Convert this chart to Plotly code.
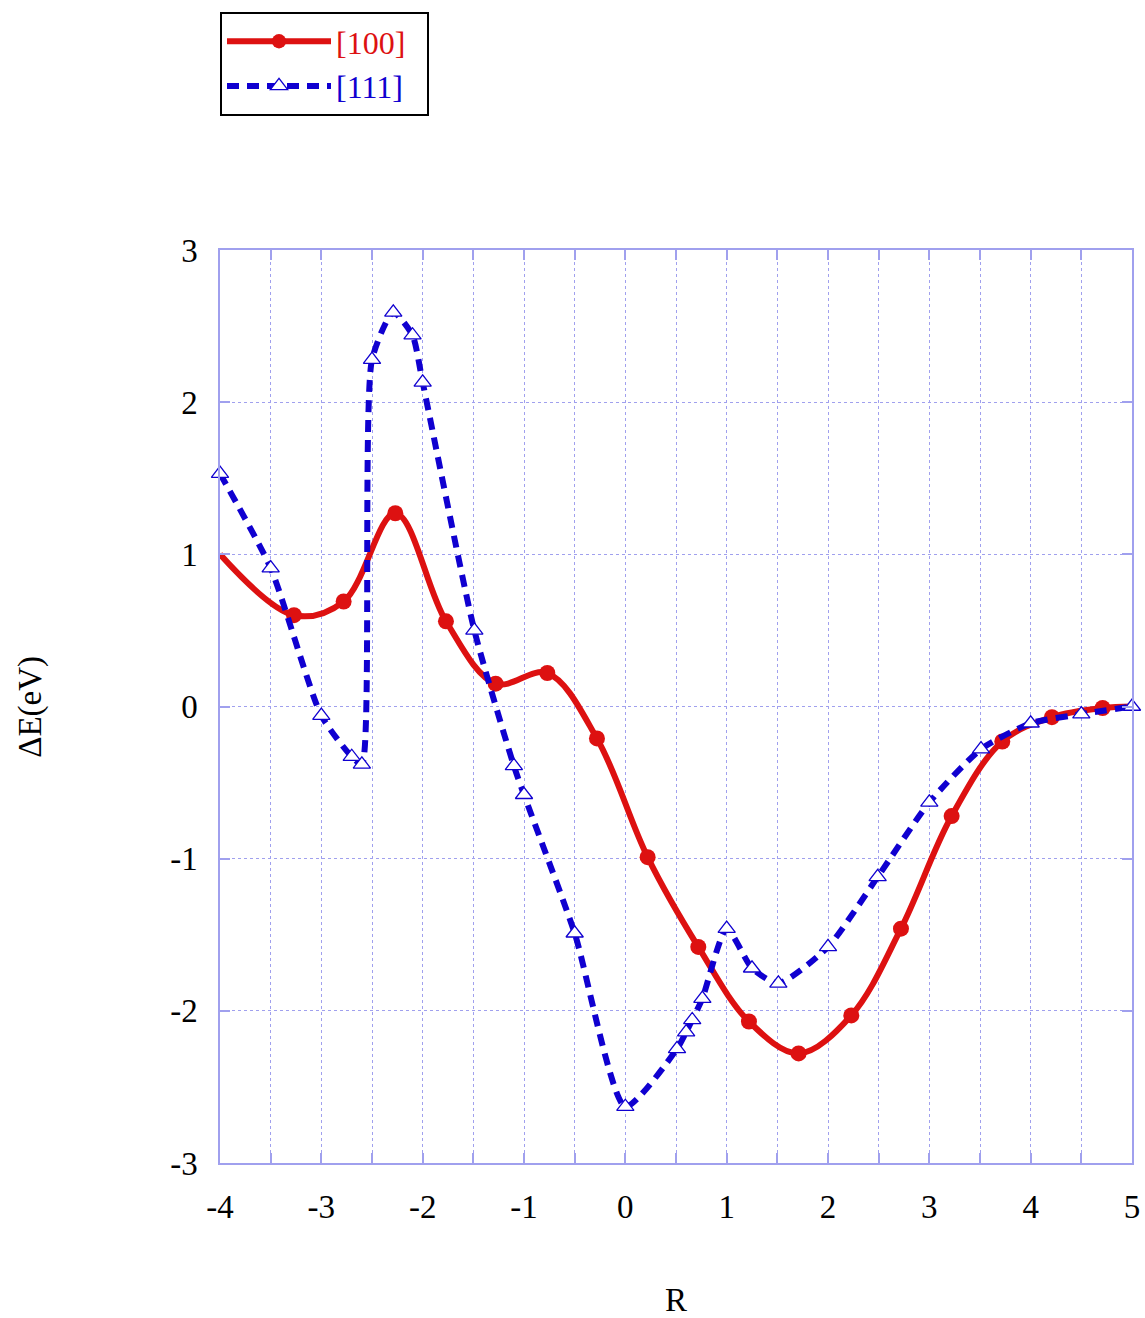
import plotly.graph_objects as go

# ---- data ----
r100_x = [-4.0, -3.27, -2.78, -2.27, -1.77, -1.28, -0.77, -0.28, 0.22, 0.72, 1.22, 1.71, 2.23, 2.72, 3.22, 3.72, 4.21, 4.71, 5.0]
r100_y = [1.00, 0.60, 0.69, 1.27, 0.56, 0.15, 0.22, -0.21, -0.99, -1.58, -2.07, -2.28, -2.03, -1.46, -0.72, -0.23, -0.07, -0.01, 0.00]
r100_marked = [False] + [True] * 17 + [False]

r111_x = [-4.0, -3.5, -3.0, -2.70, -2.60, -2.50, -2.29, -2.10, -2.0, -1.49, -1.10, -1.0, -0.5, 0.0,
          0.51, 0.60, 0.66, 0.76, 1.00, 1.25, 1.51, 2.00, 2.49, 3.0, 3.51, 4.0, 4.5, 5.0]
r111_y = [1.53, 0.91, -0.06, -0.33, -0.38, 2.28, 2.59, 2.44, 2.13, 0.50, -0.39, -0.58, -1.49, -2.63,
          -2.25, -2.14, -2.06, -1.92, -1.46, -1.72, -1.82, -1.58, -1.12, -0.63, -0.28, -0.11, -0.05, 0.00]

x_ticks = [-4, -3, -2, -1, 0, 1, 2, 3, 4, 5]
x_ticklabels = ["-4", "-3", "-2", "-1", "0", "1", "2", "3", "4", "5"]
y_ticks = [-3, -2, -1, 0, 1, 2, 3]
y_ticklabels = ["-3", "-2", "-1", "0", "1", "2", "3"]

RED = "#dd1111"
BLUE = "#1000d0"
GRID = "#a0a0ee"
FONT = "Liberation Serif"
FS = 33

fig = go.Figure()

fig.add_trace(go.Scatter(
    x=r100_x, y=r100_y, mode="lines+markers",
    name=f"<span style='color:{RED}'>[100]</span>&nbsp;&nbsp;",
    line=dict(color=RED, width=6, shape="spline", smoothing=1.0),
    marker=dict(color=RED, size=[16 if m else 0 for m in r100_marked], symbol="circle",
                opacity=1, line=dict(color=RED, width=0)),
    cliponaxis=False,
))

fig.add_trace(go.Scatter(
    x=r111_x, y=r111_y, mode="lines+markers",
    name=f"<span style='color:{BLUE}'>[111]</span>&nbsp;&nbsp;",
    line=dict(color=BLUE, width=6, dash="12px,8px", shape="spline", smoothing=0.6),
    marker=dict(color="white", size=15, symbol="triangle-up", opacity=1,
                line=dict(color=BLUE, width=1.3)),
    cliponaxis=False,
))

axis_common = dict(
    showline=True, linecolor=GRID, linewidth=1.5, mirror="ticks",
    ticks="inside", ticklen=10, tickcolor=GRID, tickwidth=1.5,
    showgrid=True, gridcolor=GRID, griddash="dot", gridwidth=1,
    zeroline=False, automargin=False,
    tickfont=dict(family=FONT, size=FS, color="black"),
)

fig.update_xaxes(
    range=[-4, 5], tickmode="array", tickvals=x_ticks, ticktext=x_ticklabels,
    ticklabelstandoff=14,
    minor=dict(dtick=0.5, tick0=0, ticks="inside", ticklen=10, tickcolor=GRID,
               showgrid=True, gridcolor=GRID, griddash="dot", gridwidth=1),
    **axis_common,
)
fig.update_yaxes(
    range=[-3, 3], tickmode="array", tickvals=y_ticks, ticktext=y_ticklabels,
    ticklabelstandoff=14,
    **axis_common,
)

fig.add_annotation(text="R", xref="paper", yref="paper", x=0.5, y=-0.150,
                   showarrow=False, font=dict(family=FONT, size=FS, color="black"),
                   xanchor="center", yanchor="middle")
fig.add_annotation(text="ΔE(eV)", xref="paper", yref="paper", x=-0.208, y=0.5,
                   showarrow=False, textangle=-90,
                   font=dict(family=FONT, size=FS, color="black"),
                   xanchor="center", yanchor="middle")

fig.update_layout(
    width=1145, height=1318,
    margin=dict(l=220, r=13, t=250, b=155, autoexpand=False),
    plot_bgcolor="white", paper_bgcolor="white",
    font=dict(family=FONT, size=FS, color="black"),
    legend=dict(x=0, y=1.2607, xanchor="left", yanchor="top",
                bordercolor="black", borderwidth=2, bgcolor="white",
                font=dict(family=FONT, size=32), itemwidth=104,
                tracegroupgap=0),
    showlegend=True,
)

fig.write_html("out.html",
               config={"displayModeBar": False},
               post_script="document.body.style.margin='0';document.body.style.overflow='hidden';")
